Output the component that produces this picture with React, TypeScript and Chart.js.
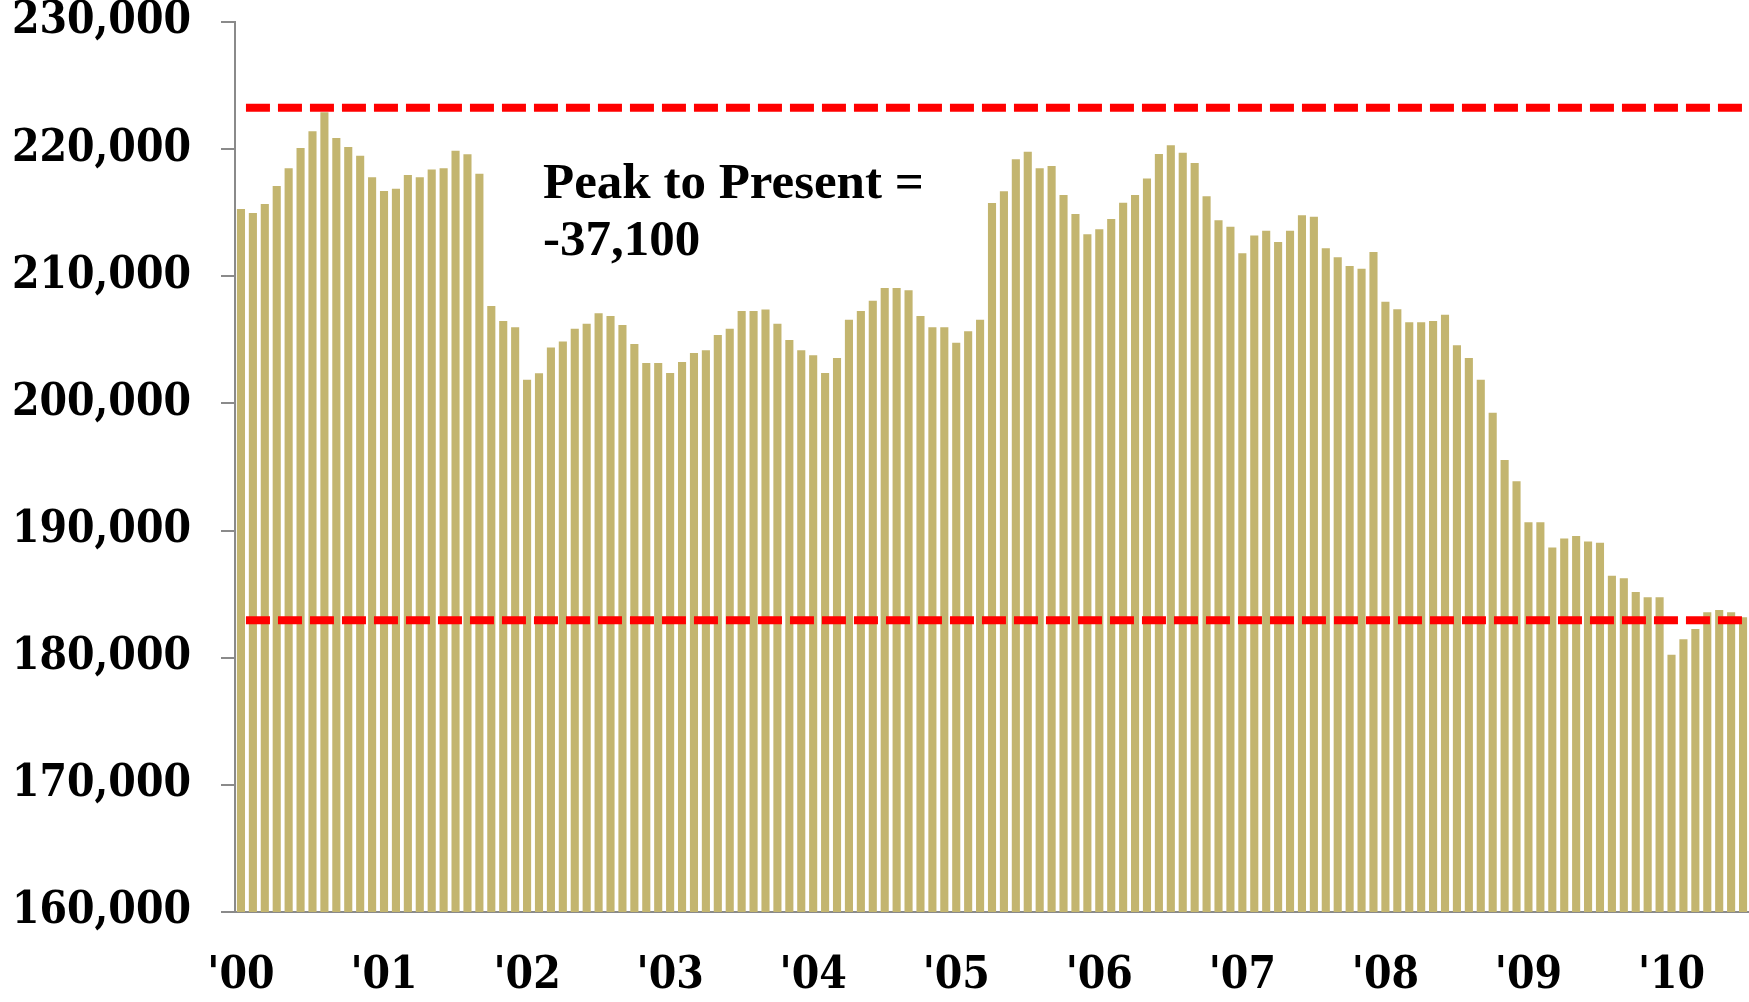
import React, { useEffect, useRef } from "react";
import { Chart, registerables } from "chart.js";

Chart.register(...registerables);

// Year tick labels (one per January)
const yearLabels = ["'00", "'01", "'02", "'03", "'04", "'05", "'06", "'07", "'08", "'09", "'10"];
const monthNames = ["Jan", "Feb", "Mar", "Apr", "May", "Jun", "Jul", "Aug", "Sep", "Oct", "Nov", "Dec"];

// Monthly values, Jan 2000 .. Jul 2010
const monthlyValues = [
  215290, 214980, 215690, 217100, 218490, 220090, 221400, 222900, 220880, 220170, 219490, 217780,
  216710, 216890, 217970, 217780, 218390, 218490, 219880, 219590, 218070, 207660, 206480, 205990,
  201870, 202370, 204390, 204880, 205880, 206270, 207090, 206880, 206170, 204670, 203180, 203180,
  202390, 203260, 203970, 204180, 205380, 205880, 207270, 207270, 207380, 206270, 204990, 204180,
  203780, 202390, 203570, 206590, 207270, 208080, 209080, 209080, 208900, 206880, 205990, 205990,
  204780, 205670, 206590, 215760, 216680, 219200, 219800, 218490, 218670, 216390, 214900, 213300,
  213690, 214510, 215790, 216390, 217700, 219620, 220300, 219720, 218910, 216290, 214400, 213900,
  211810, 213200, 213590, 212700, 213590, 214800, 214690, 212200, 211490, 210810, 210600, 211910,
  208000, 207400, 206380, 206380, 206480, 206980, 204570, 203570, 201870, 199270, 195550, 193870,
  190650, 190650, 188660, 189370, 189570, 189150, 189050, 186450, 186250, 185170, 184750, 184750,
  180240, 181450, 182260, 183570, 183750, 183570, 183180,
];

const categories = monthlyValues.map(
  (_, i) => `${monthNames[i % 12]} 20${String(Math.floor(i / 12)).padStart(2, "0")}`
);

// Dashed reference levels (peak and present)
const referenceLevels = [223250, 182950];
const annotationLines = ["Peak to Present =", "-37,100"];

const yMin = 160000;
const yMax = 230000;
const yStep = 10000;

const BAR_COLOR = "#C3B56F";
const AXIS_COLOR = "#8A8A8A";
const TICK_FONT = "'DejaVu Serif Condensed', 'DejaVu Serif', serif";

const overlayPlugin = {
  id: "overlay",
  afterDatasetsDraw(chart: any) {
    const { ctx, scales } = chart;
    const x = scales.x;
    const y = scales.y;
    ctx.save();
    ctx.strokeStyle = "#FF0000";
    ctx.lineWidth = 8;
    ctx.lineCap = "butt";
    ctx.setLineDash([24, 8]);
    const x0 = x.getPixelForValue(0) + 5;
    referenceLevels.forEach((v) => {
      const py = y.getPixelForValue(v);
      ctx.beginPath();
      ctx.moveTo(x0, py);
      ctx.lineTo(chart.width, py);
      ctx.stroke();
    });
    ctx.setLineDash([]);
    ctx.fillStyle = "#000000";
    ctx.font = "bold 51px 'Liberation Serif', serif";
    ctx.textAlign = "left";
    ctx.textBaseline = "alphabetic";
    annotationLines.forEach((t, i) => {
      ctx.fillText(t, 543, 198 + i * 57);
    });
    ctx.restore();
  },
};

export default function App() {
  const canvasRef = useRef<HTMLCanvasElement | null>(null);

  useEffect(() => {
    if (!canvasRef.current) return;
    const chart = new Chart(canvasRef.current, {
      type: "bar",
      data: {
        labels: categories,
        datasets: [
          {
            data: monthlyValues,
            backgroundColor: BAR_COLOR,
            borderWidth: 0,
            barPercentage: 0.68,
            categoryPercentage: 1,
          },
        ],
      },
      options: {
        responsive: false,
        animation: false,
        events: [],
        layout: { padding: { top: 22, right: 0, bottom: 0, left: 0 } },
        plugins: {
          legend: { display: false },
          tooltip: { enabled: false },
          title: { display: false },
        },
        scales: {
          x: {
            type: "category",
            offset: true,
            grid: { display: true, drawOnChartArea: false, drawTicks: false },
            border: { display: true, color: AXIS_COLOR, width: 2 },
            ticks: {
              autoSkip: false,
              maxRotation: 0,
              minRotation: 0,
              padding: 38,
              color: "#000000",
              font: { family: TICK_FONT, size: 44, weight: "bold" },
              callback: (_v: any, index: number) =>
                index % 12 === 0 ? yearLabels[index / 12] : "",
            },
            afterFit: (scale: any) => {
              scale.height = 90;
              scale.paddingLeft = 0;
              scale.paddingRight = 0;
            },
          },
          y: {
            min: yMin,
            max: yMax,
            grid: {
              display: true,
              drawOnChartArea: false,
              drawTicks: true,
              tickLength: 14,
              color: AXIS_COLOR,
              lineWidth: 2,
            },
            border: { display: true, color: AXIS_COLOR, width: 2 },
            ticks: {
              stepSize: yStep,
              padding: 30,
              color: "#000000",
              font: { family: TICK_FONT, size: 44, weight: "bold" },
              callback: (v: any) => Number(v).toLocaleString("en-US"),
            },
            afterFit: (scale: any) => {
              scale.width = 235;
              scale.paddingTop = 0;
              scale.paddingBottom = 0;
            },
          },
        },
      },
      plugins: [overlayPlugin],
    });
    return () => chart.destroy();
  }, []);

  return (
    <div style={{ position: "absolute", left: 0, top: 0, width: 1749, height: 1002, background: "#ffffff" }}>
      <canvas ref={canvasRef} width={1749} height={1002} style={{ display: "block" }} />
    </div>
  );
}
